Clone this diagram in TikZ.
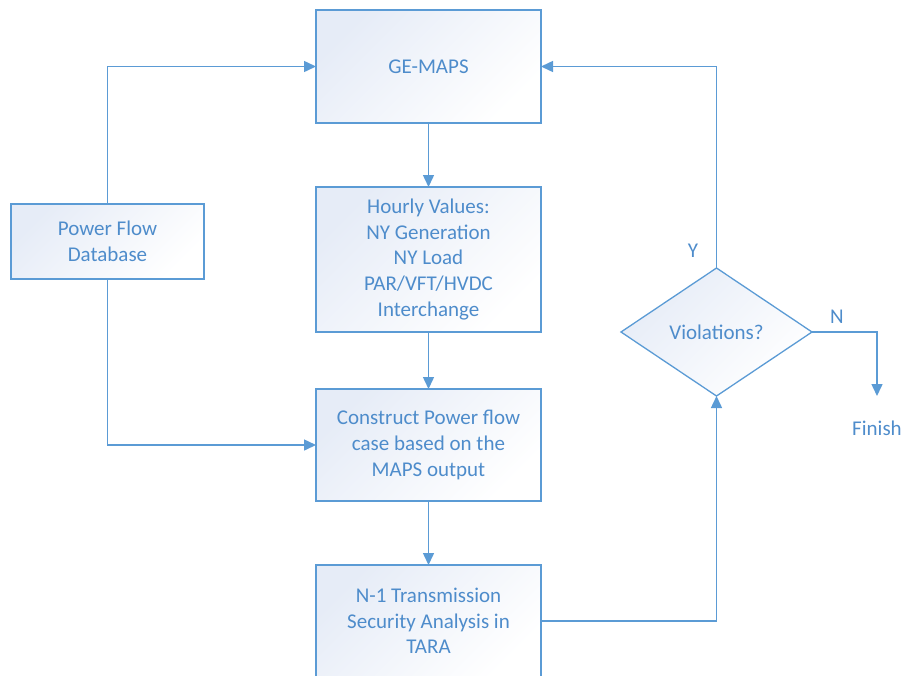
\documentclass[tikz,border=0pt]{standalone}
\usepackage{fontspec}
\setmainfont{Carlito}
\usetikzlibrary{shapes.geometric,arrows.meta}
\definecolor{ln}{RGB}{91,155,213}
\definecolor{tx}{RGB}{78,140,203}
\definecolor{fl}{RGB}{230,236,247}
\tikzset{
  base/.style={draw=ln, line width=1.3pt, top color=fl, bottom color=white, shading angle=45,
    text=tx, align=center, inner sep=0pt, outer sep=0pt,
    font=\fontsize{21pt}{25.7pt}\selectfont},
  boxnode/.style={base, rectangle, minimum width=225pt},
  dia/.style={base, diamond, aspect=1.5, minimum width=191pt, minimum height=128pt},
  lbl/.style={text=tx, font=\fontsize{21pt}{25.7pt}\selectfont, inner sep=0pt},
  arr/.style={draw=ln, line width=1.5pt, -{Triangle[width=11pt,length=12pt]}},
  ln/.style={draw=ln, line width=1.5pt}
}
\begin{document}
\begin{tikzpicture}[x=1pt,y=-1pt]
\useasboundingbox (0,0) rectangle (904,675);
\node[boxnode, minimum height=113pt] (ge) at (428.5,66.5) {GE-MAPS};
\node[boxnode, minimum height=145pt] (hv) at (428.5,259.5) {Hourly Values:\\NY Generation\\NY Load\\PAR/VFT/HVDC\\Interchange};
\node[boxnode, minimum height=112pt] (cp) at (428.5,445) {Construct Power flow\\case based on the\\MAPS output};
\node[boxnode, minimum height=112pt] (n1) at (428.5,621) {N-1 Transmission\\Security Analysis in\\TARA};
\node[base, rectangle, minimum width=193pt, minimum height=75pt] (pf) at (107.5,241.5) {Power Flow\\Database};
\node[dia] (vi) at (716.5,332) {Violations?};
\node[lbl] (y) at (693,251) {Y};
\node[lbl] (n) at (837,317) {N};
\node[lbl] (fn) at (877,428) {Finish};
\coordinate (fe) at (877,396);
\draw[arr] (ge.south) -- (hv.north);
\draw[arr] (hv.south) -- (cp.north);
\draw[arr] (cp.south) -- (n1.north);
\draw[arr] (pf.north) |- (ge.west);
\draw[arr] (pf.south) |- (cp.west);
\draw[arr] (n1.east) -| (vi.south);
\draw[arr] (vi.north) |- (ge.east);
\draw[arr] (vi.east) -| (fe);
\end{tikzpicture}
\end{document}
